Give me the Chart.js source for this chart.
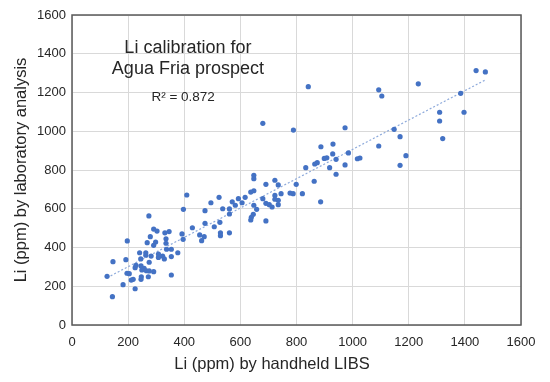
<!DOCTYPE html>
<html>
<head>
<meta charset="utf-8">
<script src="https://cdn.jsdelivr.net/npm/chart.js@4"></script>
<style>
  html, body { margin: 0; padding: 0; background: #fff; }
  canvas { display: block; }
</style>
</head>
<body>
<canvas id="calib" width="550" height="382"></canvas>
<script>
// Li (ppm) by handheld LIBS vs laboratory analysis
const libsX = [
  409, 524, 495, 397, 474, 537, 274, 474, 527, 429, 507, 291, 303, 279, 331, 346, 392, 455, 471, 529,
  529, 396, 462, 197, 335, 335, 298, 268, 291, 337, 354, 377, 241, 263, 263, 282, 308, 308, 323, 329,
  354, 146, 192, 245, 275, 228, 246, 257, 249, 265, 275, 291, 225, 125, 196, 204, 247, 272, 354, 218,
  211, 246, 182, 225, 144,
  680, 789, 887, 930, 929, 908, 899, 941, 874, 865, 833, 918, 941, 648, 648, 863, 723, 735, 691, 799,
  648, 637, 777, 788, 821, 745, 723, 617, 593, 606, 571, 680, 723, 735, 582, 561, 648, 658, 691, 703,
  713, 735, 886, 561, 646, 639, 637, 691, 561,
  842, 1093, 1104, 1234, 1440, 1473, 1385, 1310, 1397, 1310, 1321, 973, 1148, 1169, 1093, 985, 1017, 1026, 1190, 973,
  1169
];
const labY = [
  671, 659, 631, 597, 590, 600, 563, 525, 530, 502, 507, 495, 485, 456, 476, 482, 470, 465, 456, 476,
  461, 442, 435, 434, 445, 422, 428, 425, 411, 391, 391, 373, 373, 373, 360, 356, 366, 349, 356, 341,
  353, 327, 337, 341, 324, 308, 305, 293, 284, 280, 279, 275, 296, 251, 267, 265, 249, 249, 258, 236,
  232, 236, 208, 187, 146,
  1041, 1006, 920, 934, 883, 863, 860, 855, 838, 831, 812, 812, 778, 773, 755, 742, 747, 723, 726, 726,
  693, 686, 681, 678, 678, 678, 669, 659, 652, 631, 636, 652, 649, 644, 618, 599, 618, 597, 628, 621,
  609, 621, 636, 573, 571, 556, 542, 537, 476,
  1230, 1214, 1182, 1245, 1313, 1306, 1196, 1098, 1098, 1053, 962, 1018, 1010, 972, 924, 888, 858, 862, 874, 826,
  824
];
// linear trend line ends
const trendX = [125, 1472];
const trendY = [244, 1264];

const axisTicks = [0, 200, 400, 600, 800, 1000, 1200, 1400, 1600];
const titleLines = ['Li calibration for', 'Agua Fria prospect'];
const r2Text = 'R\u00b2 = 0.872';

const FONT = '"Liberation Sans", Arial, sans-serif';
const TEXT = '#262626';

const points = libsX.map((x, i) => ({ x, y: labY[i] }));
const trend = trendX.map((x, i) => ({ x, y: trendY[i] }));

const frameAndText = {
  id: 'frameAndText',
  beforeDatasetsDraw(chart) {
    const { ctx, chartArea: a } = chart;
    ctx.save();
    ctx.strokeStyle = '#595959';
    ctx.lineWidth = 1.5;
    ctx.strokeRect(a.left, a.top, a.right - a.left, a.bottom - a.top);
    ctx.restore();
  },
  afterDraw(chart) {
    const { ctx } = chart;
    const xs = chart.scales.x, ys = chart.scales.y;
    ctx.save();
    ctx.fillStyle = TEXT;
    ctx.textAlign = 'center';
    ctx.textBaseline = 'middle';
    ctx.font = '18px ' + FONT;
    ctx.fillText(titleLines[0], xs.getPixelForValue(413), ys.getPixelForValue(1432));
    ctx.fillText(titleLines[1], xs.getPixelForValue(413), ys.getPixelForValue(1322));
    ctx.font = '13.5px ' + FONT;
    ctx.fillText(r2Text, xs.getPixelForValue(396), ys.getPixelForValue(1175));
    // x axis title sits a little left of the plot centre in the original
    ctx.font = '16.5px ' + FONT;
    ctx.fillText('Li (ppm) by handheld LIBS', 272, 364);
    ctx.restore();
  }
};

new Chart(document.getElementById('calib').getContext('2d'), {
  type: 'scatter',
  data: {
    datasets: [
      {
        label: 'Li',
        data: points,
        backgroundColor: '#4472c4',
        borderWidth: 0,
        pointRadius: 2.6,
        pointHoverRadius: 2.6
      },
      {
        type: 'line',
        label: 'trend',
        data: trend,
        borderColor: '#8eaadb',
        borderWidth: 1.2,
        borderDash: [2, 2],
        pointRadius: 0,
        fill: false
      }
    ]
  },
  options: {
    responsive: false,
    animation: false,
    devicePixelRatio: 1,
    layout: { padding: { top: 15, right: 29, bottom: 0, left: 0 } },
    plugins: {
      legend: { display: false },
      tooltip: { enabled: false }
    },
    scales: {
      x: {
        type: 'linear',
        min: 0,
        max: 1600,
        afterBuildTicks: s => { s.ticks = axisTicks.map(v => ({ value: v })); },
        afterFit: s => { s.height = 57; },
        grid: { color: '#d9d9d9', drawTicks: false },
        border: { display: false },
        ticks: { padding: 10, color: TEXT, font: { family: FONT, size: 13 }, callback: v => String(v) }
      },
      y: {
        type: 'linear',
        min: 0,
        max: 1600,
        afterBuildTicks: s => { s.ticks = axisTicks.map(v => ({ value: v })); },
        afterFit: s => { s.width = 72; },
        grid: { color: '#d9d9d9', drawTicks: false },
        border: { display: false },
        ticks: { padding: 6, color: TEXT, font: { family: FONT, size: 13 }, callback: v => String(v) },
        title: {
          display: true,
          text: 'Li (ppm) by laboratory analysis',
          color: TEXT,
          font: { family: FONT, size: 16.5 },
          padding: { top: 12, bottom: 0 }
        }
      }
    }
  },
  plugins: [frameAndText]
});
</script>
</body>
</html>
